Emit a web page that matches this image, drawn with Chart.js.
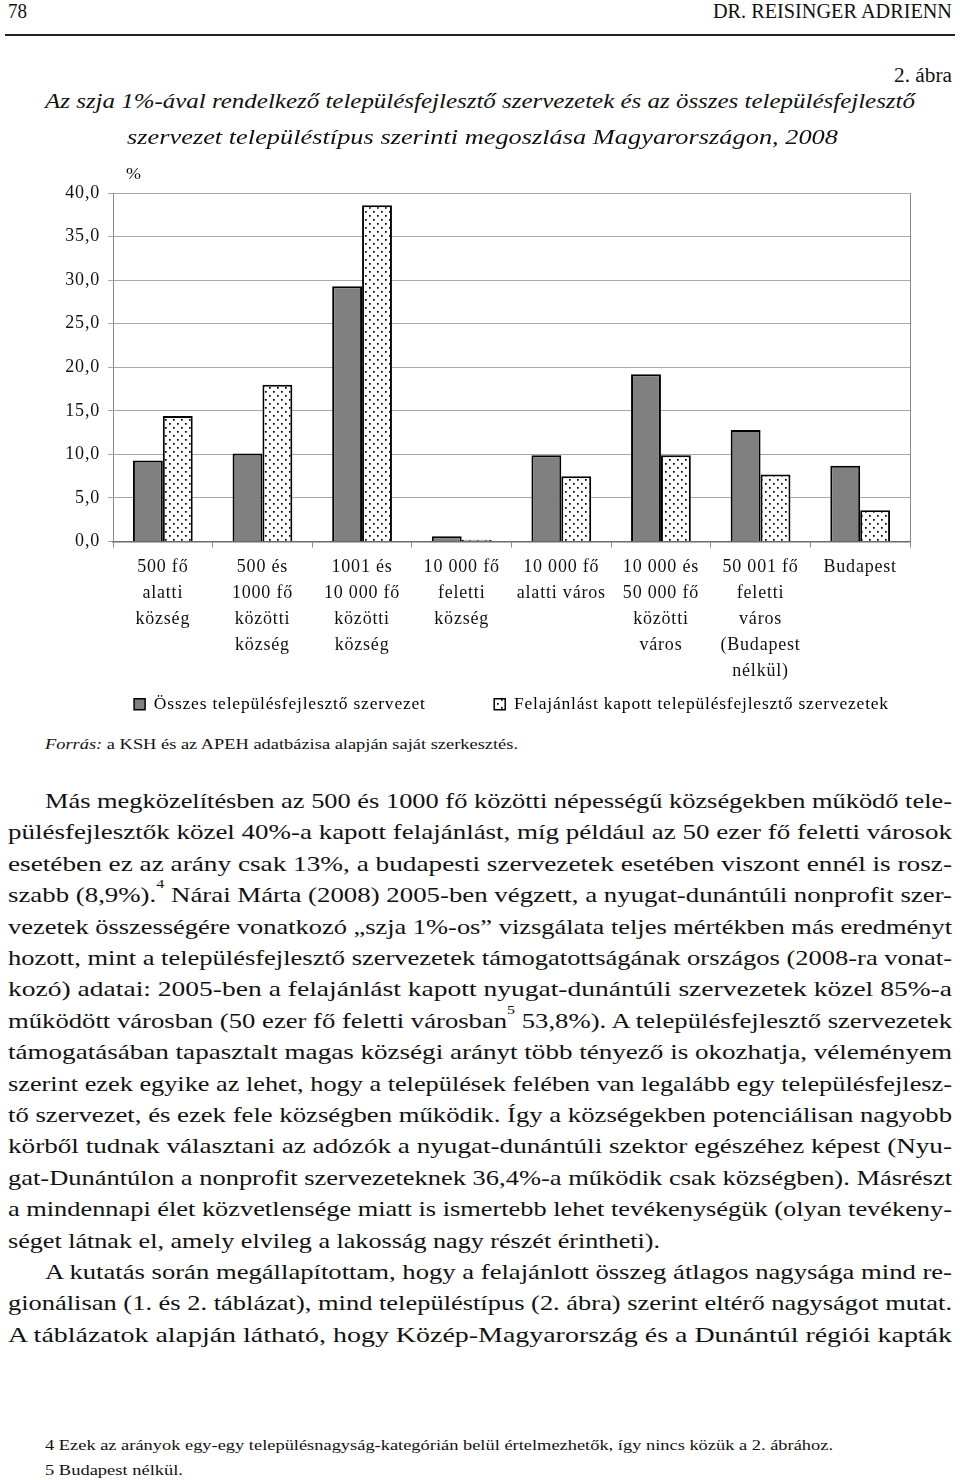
<!DOCTYPE html>
<html lang="hu">
<head>
<meta charset="UTF-8" />
<title>2. ábra</title>
<script src="https://cdn.jsdelivr.net/npm/chart.js"></script>
<style>
  html, body { margin: 0; padding: 0; background: #fff; }
  body { width: 960px; height: 1480px; position: relative; overflow: hidden;
         font-family: "Liberation Serif", "Times New Roman", serif; color: #111; }
  .ln { position: absolute; white-space: nowrap; line-height: 32px; height: 32px; }
  .ln span { display: inline-block; transform-origin: left center; }
  .ln sup { font-size: 60%; position: relative; top: -2px; vertical-align: top; line-height: 1; }
  #rule { position: absolute; left: 5px; top: 34px; width: 950px; height: 2px; background: #222; }
  #wrap { position: absolute; left: 0; top: 150px; width: 960px; height: 573px; }
</style>
</head>
<body>
<div id="rule"></div>
<div id="wrap"><canvas id="myChart" width="960" height="573"></canvas></div>

<script>
// chart data
const categories = [
  ["500 fő", "alatti", "község"],
  ["500 és", "1000 fő", "közötti", "község"],
  ["1001 és", "10 000 fő", "közötti", "község"],
  ["10 000 fő", "feletti", "község"],
  ["10 000 fő", "alatti város"],
  ["10 000 és", "50 000 fő", "közötti", "város"],
  ["50 001 fő", "feletti", "város", "(Budapest", "nélkül)"],
  ["Budapest"]
];
const seriesNames = ["Összes településfejlesztő szervezet", "Felajánlást kapott településfejlesztő szervezetek"];
const osszes = [9.3, 10.1, 29.3, 0.6, 9.9, 19.2, 12.8, 8.7];
const felajanlast = [14.4, 18.0, 38.6, 0.2, 7.5, 9.9, 7.7, 3.6];
const yMin = 0, yMax = 40, yStep = 5;

// page text: [left, right, centre y, font size, italic, html]
const textLines = [
  [8, 27, 11, 20, 0, "78"],
  [713, 952, 11, 20, 0, "DR. REISINGER ADRIENN"],
  [894, 952, 75, 20, 0, "2. ábra"],
  [45, 915, 101, 22, 1, "Az szja 1%-ával rendelkező településfejlesztő szervezetek és az összes településfejlesztő"],
  [127, 838, 137, 22, 1, "szervezet településtípus szerinti megoszlása Magyarországon, 2008"],
  [126, 141, 174, 17, 0, "%"],
  [45, 518, 744, 15, 0, "<i>Forrás:</i> a KSH és az APEH adatbázisa alapján saját szerkesztés."],
  [45, 833, 1445, 15, 0, "4 Ezek az arányok egy-egy településnagyság-kategórián belül értelmezhetők, így nincs közük a 2. ábrához."],
  [45, 183, 1470, 15, 0, "5 Budapest nélkül."]
];
const bodyLines = [
  [45, 952, "Más megközelítésben az 500 és 1000 fő közötti népességű községekben működő tele-"],
  [8, 952, "pülésfejlesztők közel 40%-a kapott felajánlást, míg például az 50 ezer fő feletti városok"],
  [8, 952, "esetében ez az arány csak 13%, a budapesti szervezetek esetében viszont ennél is rosz-"],
  [8, 952, "szabb (8,9%).<sup>4</sup> Nárai Márta (2008) 2005-ben végzett, a nyugat-dunántúli nonprofit szer-"],
  [8, 952, "vezetek összességére vonatkozó „szja 1%-os” vizsgálata teljes mértékben más eredményt"],
  [8, 952, "hozott, mint a településfejlesztő szervezetek támogatottságának országos (2008-ra vonat-"],
  [8, 952, "kozó) adatai: 2005-ben a felajánlást kapott nyugat-dunántúli szervezetek közel 85%-a"],
  [8, 952, "működött városban (50 ezer fő feletti városban<sup>5</sup> 53,8%). A településfejlesztő szervezetek"],
  [8, 952, "támogatásában tapasztalt magas községi arányt több tényező is okozhatja, véleményem"],
  [8, 952, "szerint ezek egyike az lehet, hogy a települések felében van legalább egy településfejlesz-"],
  [8, 952, "tő szervezet, és ezek fele községben működik. Így a községekben potenciálisan nagyobb"],
  [8, 952, "körből tudnak választani az adózók a nyugat-dunántúli szektor egészéhez képest (Nyu-"],
  [8, 952, "gat-Dunántúlon a nonprofit szervezeteknek 36,4%-a működik csak községben). Másrészt"],
  [8, 952, "a mindennapi élet közvetlensége miatt is ismertebb lehet tevékenységük (olyan tevékeny-"],
  [8, 660, "séget látnak el, amely elvileg a lakosság nagy részét érintheti)."],
  [45, 952, "A kutatás során megállapítottam, hogy a felajánlott összeg átlagos nagysága mind re-"],
  [8, 952, "gionálisan (1. és 2. táblázat), mind településtípus (2. ábra) szerint eltérő nagyságot mutat."],
  [8, 952, "A táblázatok alapján látható, hogy Közép-Magyarország és a Dunántúl régiói kapták"]
];

function addLine(x0, x1, cy, size, italic, html) {
  const d = document.createElement("div");
  d.className = "ln";
  d.style.left = x0 + "px";
  d.style.top = (cy - 16) + "px";
  d.style.fontSize = size + "px";
  if (italic) d.style.fontStyle = "italic";
  d.dataset.w = x1 - x0;
  d.innerHTML = "<span>" + html + "</span>";
  document.body.appendChild(d);
}
textLines.forEach(t => addLine(t[0], t[1], t[2], t[3], t[4], t[5]));
bodyLines.forEach((t, i) => addLine(t[0], t[1], 801 + i * 31.4, 22, 0, t[2]));

function stretchLines() {
  document.querySelectorAll(".ln").forEach(d => {
    const s = d.firstElementChild;
    const w = s.getBoundingClientRect().width;
    if (w > 0) s.style.transform = "scaleX(" + (Number(d.dataset.w) / w) + ")";
  });
}

// dotted fill for the second series
function dotPattern() {
  const tile = document.createElement("canvas");
  tile.width = 8; tile.height = 8;
  const t = tile.getContext("2d");
  t.fillStyle = "#fff";
  t.fillRect(0, 0, 8, 8);
  t.fillStyle = "#000";
  t.fillRect(1, 1, 1.7, 1.7);
  t.fillRect(5, 5, 1.7, 1.7);
  return document.getElementById("myChart").getContext("2d").createPattern(tile, "repeat");
}

const spacing = {
  id: "spacing",
  beforeUpdate(chart) { chart.ctx.letterSpacing = "0.8px"; },
  beforeDraw(chart) { chart.ctx.letterSpacing = "0.8px"; }
};
const frame = {
  id: "frame",
  afterDatasetsDraw(chart) {
    const a = chart.chartArea, ctx = chart.ctx;
    ctx.save();
    ctx.strokeStyle = "#8a8a8a";
    ctx.lineWidth = 1;
    ctx.beginPath();
    ctx.moveTo(a.right + 0.5, a.top);
    ctx.lineTo(a.right + 0.5, a.bottom);
    ctx.stroke();
    ctx.restore();
  }
};

function graph() {
  stretchLines();
  const ctx = document.getElementById("myChart");
  const dots = dotPattern();
  new Chart(ctx, {
    type: "bar",
    data: {
      labels: categories,
      datasets: [
        { label: seriesNames[0], data: osszes, backgroundColor: "#808080",
          borderColor: "#000", borderWidth: 2 },
        { label: seriesNames[1], data: felajanlast, backgroundColor: dots,
          borderColor: "#000", borderWidth: 2 }
      ]
    },
    options: {
      responsive: false,
      animation: false,
      layout: { padding: { top: 43, left: 53, right: 50, bottom: 0 } },
      datasets: { bar: { categoryPercentage: 0.6, barPercentage: 1.0 } },
      plugins: {
        tooltip: { enabled: false },
        legend: {
          position: "bottom",
          fullSize: false,
          labels: {
            color: "#111",
            boxWidth: 11,
            boxHeight: 11,
            padding: 4,
            font: { family: "Liberation Serif", size: 17.5 },
            generateLabels(chart) {
              return chart.data.datasets.map((ds, i) => ({
                text: i === 0 ? ds.label + "\u2003\u2003\u2003\u2002" : ds.label,
                fillStyle: ds.backgroundColor,
                strokeStyle: "#000",
                lineWidth: 1.5,
                datasetIndex: i,
                hidden: false
              }));
            }
          }
        }
      },
      scales: {
        x: {
          grid: { drawOnChartArea: false, drawTicks: true, tickLength: 6, color: "#8a8a8a" },
          border: { color: "#6a6a6a", width: 1.5 },
          ticks: {
            color: "#111",
            padding: 7,
            maxRotation: 0,
            autoSkip: false,
            font: { family: "Liberation Serif", size: 18, lineHeight: 1.444 }
          }
        },
        y: {
          min: yMin,
          max: yMax,
          afterFit(scale) { scale.width = 60; },
          grid: { color: "#a8a8a8", tickLength: 5 },
          border: { color: "#8a8a8a" },
          ticks: {
            stepSize: yStep,
            padding: 8,
            color: "#111",
            font: { family: "Liberation Serif", size: 18 },
            callback: v => v.toFixed(1).replace(".", ",")
          }
        }
      }
    },
    plugins: [spacing, frame]
  });
}

if (document.fonts && document.fonts.ready) {
  document.fonts.ready.then(graph);
} else {
  window.onload = graph;
}
</script>
</body>
</html>
